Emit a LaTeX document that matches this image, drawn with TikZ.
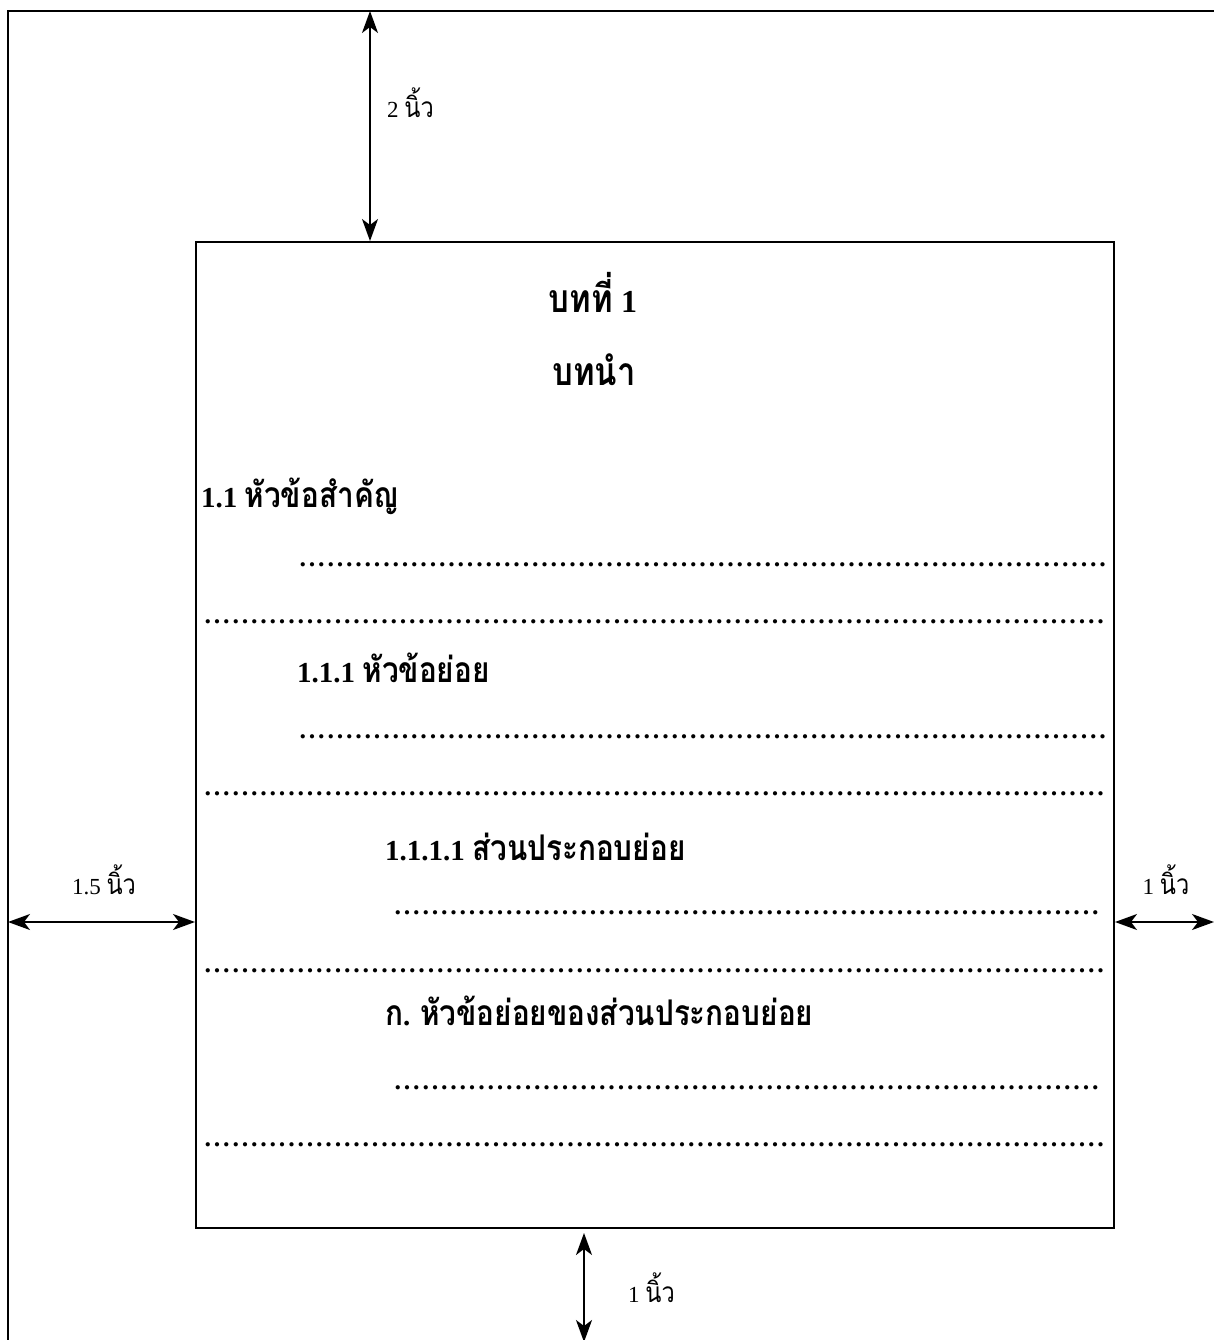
\documentclass[tikz,border=0pt]{standalone}
\usepackage{fontspec}
\setmainfont{Liberation Serif}
\newfontfamily\thaifont[Script=Thai, Scale=1.22, FakeStretch=0.84]{Loma}
\usetikzlibrary{arrows.meta, positioning}

% a row of dots, as typed on the page
\newcommand{\dotrow}[1]{\hbox to #1{\leaders\hbox to 9.3pt{\hss.\hss}\hfill}}

\begin{document}
\begin{tikzpicture}[
    x=1pt, y=-1pt,
    every node/.style={inner sep=0pt},
    frame/.style={line width=2pt},
    title/.style={font=\fontsize{32}{38}\selectfont\bfseries},
    heading/.style={anchor=base west, font=\fontsize{29}{35}\selectfont\bfseries},
    dots/.style={anchor=base west, font=\fontsize{26}{30}\selectfont\bfseries},
    measure/.style={font=\fontsize{23}{28}\selectfont},
    dim/.style={line width=1.6pt, {Stealth[length=22pt, width=16pt, inset=6pt]}-{Stealth[length=22pt, width=16pt, inset=6pt]}}
]
\useasboundingbox (0,0) rectangle (1214,1340);
\clip (0,0) rectangle (1214,1340);

% sheet and text area
\draw[frame] (8,11) rectangle (1260,1400);
\node (area) [draw, frame, anchor=north west, minimum width=918pt, minimum height=986pt] at (195,241) {};

% chapter title
\node (chap) [title, anchor=base] at (593,312) {{\thaifont บทที่} 1};
\node (intro) [title, anchor=base] at (594,385) {\thaifont บทนำ};

% headings and dotted lines
\node (h1) [heading] at (201,507) {1.1 {\thaifont หัวข้อสำคัญ}};
\node (d1) [dots] at (298,566) {\dotrow{812pt}};
\node (d2) [dots] at (203,623) {\dotrow{905pt}};
\node (h2) [heading] at (297,682) {1.1.1 {\thaifont หัวข้อย่อย}};
\node (d3) [dots] at (298,738) {\dotrow{812pt}};
\node (d4) [dots] at (203,795) {\dotrow{905pt}};
\node (h3) [heading] at (385,860) {1.1.1.1 {\thaifont ส่วนประกอบย่อย}};
\node (d5) [dots] at (393,914) {\dotrow{710pt}};
\node (d6) [dots] at (203,972) {\dotrow{905pt}};
\node (h4) [heading] at (385,1025) {{\thaifont ก}. {\thaifont หัวข้อย่อยของส่วนประกอบย่อย}};
\node (d7) [dots] at (393,1089) {\dotrow{710pt}};
\node (d8) [dots] at (203,1146) {\dotrow{905pt}};

% margins
\coordinate (topm) at (370,11);
\coordinate (leftm) at (8,922);
\coordinate (rightm) at (1214,922);
\coordinate (botm) at (584,1342);
\coordinate (botgap) at (584,1233);

\draw[dim] (topm) -- (area.north -| topm);
\node (ltop) [measure, anchor=base west] at (387,118) {2 {\thaifont นิ้ว}};
\draw[dim] (leftm) -- (leftm -| area.west);
\node (lleft) [measure, anchor=base] at (104,894) {1.5 {\thaifont นิ้ว}};
\draw[dim] (leftm -| area.east) -- (rightm);
\node (lright) [measure, anchor=base] at (1166,894) {1 {\thaifont นิ้ว}};
\draw[dim] (botgap) -- (botm);
\node (lbot) [measure, anchor=base west] at (628,1302) {1 {\thaifont นิ้ว}};

\end{tikzpicture}
\end{document}
